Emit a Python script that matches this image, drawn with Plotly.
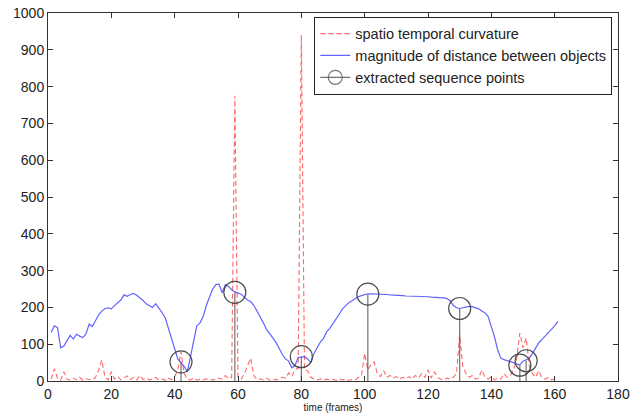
import plotly.graph_objects as go

frames = list(range(1, 162))

distance = [132, 150, 145, 90, 95, 110, 124, 114, 127, 122,
            118, 128, 155, 148, 165, 180, 190, 197, 199, 196,
            205, 212, 220, 234, 230, 235, 238, 233, 227, 219,
            210, 204, 200, 210, 199, 186, 172, 145, 115, 92,
            60, 50, 40, 25, 70, 110, 150, 158, 175, 205,
            225, 250, 262, 263, 240, 262, 257, 248, 242, 240,
            236, 228, 220, 216, 205, 190, 175, 158, 140, 127,
            117, 105, 88, 72, 60, 54, 36, 42, 64, 66,
            66, 60, 50, 75, 92, 106, 116, 134, 143, 155,
            168, 182, 196, 206, 213, 218, 224, 229, 232, 235,
            237, 237, 237, 236, 236, 235, 235, 234, 234, 233,
            232, 232, 231, 231, 230, 230, 230, 229, 229, 229,
            228, 228, 227, 227, 226, 224, 218, 205, 199, 197,
            199, 201, 203, 202, 200, 196, 190, 185, 175, 150,
            120, 85, 62, 58, 56, 54, 50, 46, 44, 54,
            57, 62, 75, 90, 104, 113, 122, 132, 142, 150,
            162]

curvature = [5, 33, 8, 2, 25, 5, 2, 8, 3, 10,
             2, 6, 4, 3, 10, 30, 57, 10, 3, 25,
             5, 12, 3, 8, 14, 4, 10, 3, 15, 4,
             8, 3, 5, 10, 3, 6, 2, 8, 3, 12,
             30, 80, 20, 5, 3, 8, 2, 5, 3, 6,
             2, 4, 3, 8, 5, 15, 6, 10, 775, 10,
             5, 20, 40, 62, 15, 4, 6, 3, 8, 2,
             5, 3, 6, 10, 8, 22, 12, 30, 35, 940,
             30, 28, 10, 5, 3, 6, 2, 5, 3, 4,
             2, 6, 3, 5, 2, 4, 3, 8, 15, 75,
             30, 45, 52, 20, 12, 28, 10, 15, 8, 12,
             5, 10, 6, 12, 5, 15, 8, 20, 10, 30,
             8, 25, 10, 5, 3, 8, 5, 10, 20, 125,
             40, 20, 10, 15, 5, 8, 30, 10, 5, 12,
             3, 8, 5, 20, 10, 15, 30, 60, 130, 90,
             117, 40, 20, 10, 28, 8, 5, 10, 3, 6,
             2]

seq_frames = [42, 59, 80, 101, 130, 149, 151]
seq_values = [52, 241, 66, 236, 197, 43, 55]

x_ticks = [0, 20, 40, 60, 80, 100, 120, 140, 160, 180]
y_ticks = [0, 100, 200, 300, 400, 500, 600, 700, 800, 900, 1000]

FONT = "Liberation Sans, Arial, sans-serif"

fig = go.Figure()

fig.add_trace(go.Scatter(
    x=frames, y=curvature, mode="lines",
    name="spatio temporal curvature",
    line=dict(color="rgba(255,40,40,0.7)", width=1.1, dash="5px,3px"),
))
fig.add_trace(go.Scatter(
    x=frames, y=distance, mode="lines",
    name="magnitude of distance between objects",
    line=dict(color="rgba(60,60,255,0.8)", width=1.2),
))

stem_x, stem_y = [], []
for f, v in zip(seq_frames, seq_values):
    stem_x += [f, f, None]
    stem_y += [0, v, None]
fig.add_trace(go.Scatter(
    x=stem_x, y=stem_y, mode="lines", showlegend=False,
    line=dict(color="rgba(80,80,80,0.8)", width=1.2),
    hoverinfo="skip",
))
fig.add_trace(go.Scatter(
    x=seq_frames, y=seq_values, mode="markers", showlegend=False,
    marker=dict(symbol="circle-open", size=22,
                line=dict(color="rgba(60,60,60,0.9)", width=1.2),
                color="rgba(60,60,60,0.9)"),
))
fig.add_trace(go.Scatter(
    x=[None], y=[None], mode="lines+markers",
    name="extracted sequence points",
    line=dict(color="rgba(100,100,100,0.9)", width=1.2),
    marker=dict(symbol="circle-open", size=14,
                line=dict(color="rgba(60,60,60,0.9)", width=1.2)),
))

axis_common = dict(
    showline=True, linecolor="#333", linewidth=1, mirror="ticks",
    ticks="inside", ticklen=5, tickcolor="#333", tickwidth=1,
    showgrid=False, zeroline=False, automargin=False,
    tickfont=dict(family=FONT, size=14, color="#222"),
)

fig.update_layout(
    width=644, height=414,
    margin=dict(l=48, r=26, t=13, b=33),
    paper_bgcolor="white", plot_bgcolor="white",
    font=dict(family=FONT, color="#222"),
    xaxis=dict(range=[0, 180], tickvals=x_ticks,
               title=dict(text="time (frames)", font=dict(family=FONT, size=10),
                          standoff=2),
               **axis_common),
    yaxis=dict(range=[0, 1000], tickvals=y_ticks, **axis_common),
    legend=dict(x=0.99, y=0.99, xanchor="right", yanchor="top",
                bgcolor="white", bordercolor="#222", borderwidth=1,
                font=dict(family=FONT, size=14.5, color="#222"),
                tracegroupgap=0, itemwidth=30),
    showlegend=True,
)

fig.write_html("out.html")
